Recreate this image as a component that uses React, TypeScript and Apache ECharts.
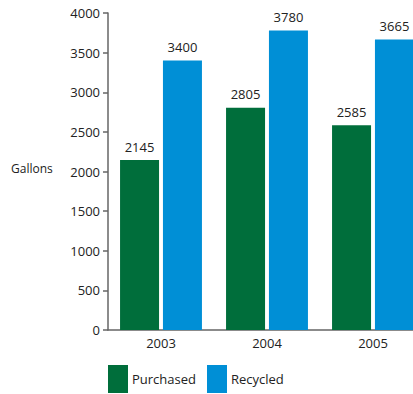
import React, { useEffect, useRef } from "react";
import * as echarts from "echarts";

const categories = ["2003", "2004", "2005"];
const purchased = [2145, 2805, 2585];
const recycled = [3400, 3780, 3665];
const seriesNames = ["Purchased", "Recycled"];
const axisTitle = "Gallons";

const FONT = "'Open Sans', 'Noto Sans', sans-serif";

export default function App() {
  const ref = useRef<HTMLDivElement>(null);
  useEffect(() => {
    if (!ref.current) return;
    const chart = echarts.init(ref.current, null, { renderer: "svg" });
    const labelStyle = {
      show: true,
      position: "top" as const,
      distance: 7,
      color: "#222",
      fontSize: 13,
      fontFamily: FONT,
    };
    chart.setOption({
      animation: false,
      backgroundColor: "#fff",
      grid: {
        left: 108,
        top: 13,
        right: -13,
        bottom: 64,
        containLabel: false,
        outerBoundsMode: "none",
      },
      legend: {
        left: 108,
        top: 365,
        padding: 0,
        itemWidth: 20,
        itemHeight: 28,
        itemGap: 11,
        icon: "rect",
        textStyle: { color: "#222", fontSize: 13, fontFamily: FONT, padding: [0, 0, 0, -1] },
        data: seriesNames,
      },
      graphic: [
        {
          type: "text",
          left: 11,
          top: 162,
          style: { text: axisTitle, fontSize: 12, fontFamily: FONT, fill: "#222" },
        },
      ],
      xAxis: {
        type: "category",
        data: categories,
        axisLine: { lineStyle: { color: "#666", width: 1.5 } },
        axisTick: { inside: true, length: 8, lineStyle: { color: "#666", width: 1.5 } },
        axisLabel: { color: "#222", fontSize: 13, fontFamily: FONT, margin: 6 },
      },
      yAxis: {
        type: "value",
        min: 0,
        max: 4000,
        interval: 500,
        splitLine: { show: false },
        axisLine: { show: true, lineStyle: { color: "#666", width: 1.5 } },
        axisTick: { show: true, length: 5, lineStyle: { color: "#666", width: 1.5 } },
        axisLabel: {
          color: "#222",
          fontSize: 13,
          fontFamily: FONT,
          margin: 8,
          formatter: (v: number) => String(v),
        },
      },
      series: [
        {
          name: seriesNames[0],
          type: "bar",
          data: purchased,
          barWidth: 39,
          barGap: "10%",
          itemStyle: { color: "#006e3b" },
          label: labelStyle,
        },
        {
          name: seriesNames[1],
          type: "bar",
          data: recycled,
          barWidth: 39,
          itemStyle: { color: "#008fd6" },
          label: labelStyle,
        },
      ],
    });
    return () => chart.dispose();
  }, []);
  return (
    <div
      ref={ref}
      style={{ position: "absolute", left: 0, top: 0, width: 413, height: 394 }}
    />
  );
}
